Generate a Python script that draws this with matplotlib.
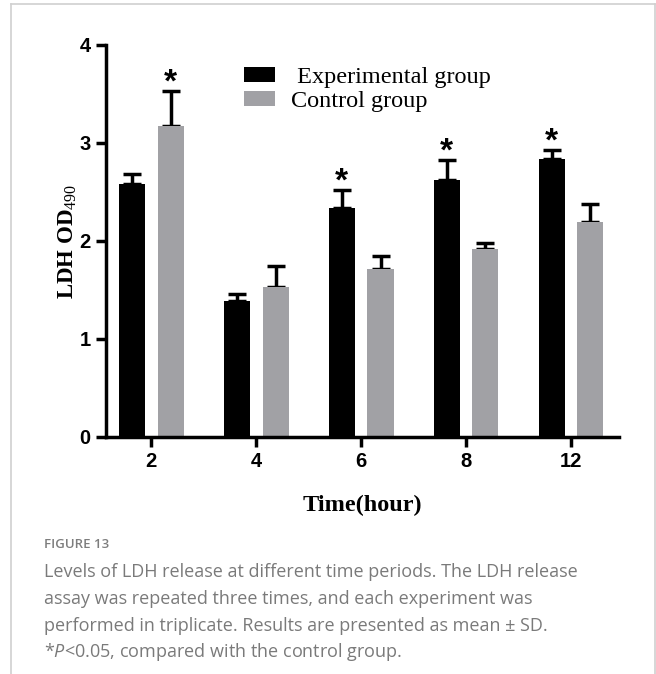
import matplotlib
matplotlib.use("Agg")
import matplotlib.pyplot as plt
import numpy as np
from matplotlib.lines import Line2D

# LDH OD490 per time point, mean and upper SD
times = ["2", "4", "6", "8", "12"]
exp_mean = [2.58, 1.39, 2.34, 2.62, 2.84]
exp_sd = [0.10, 0.07, 0.18, 0.21, 0.09]
ctrl_mean = [3.17, 1.53, 1.71, 1.92, 2.19]
ctrl_sd = [0.36, 0.22, 0.14, 0.06, 0.19]
exp_sig = [False, False, True, True, True]
ctrl_sig = [True, False, False, False, False]

caption_lines = [
    "Levels of LDH release at different time periods. The LDH release",
    "assay was repeated three times, and each experiment was",
    "performed in triplicate. Results are presented as mean \u00b1 SD.",
    r"*$\mathit{P}$<0.05, compared with the control group.",
]

plt.rcParams["mathtext.fontset"] = "custom"
plt.rcParams["mathtext.rm"] = "Liberation Serif"
plt.rcParams["mathtext.it"] = "Open Sans:italic"

W, H = 656, 674
fig = plt.figure(figsize=(W / 100, H / 100), dpi=100)
ax = fig.add_axes([106 / W, 1 - 437 / H, (619 - 106) / W, (437 - 45) / H])

x = np.arange(len(times))
off, bw = 0.185, 0.248
black, grey = "#000000", "#a1a1a5"

b1 = ax.bar(x - off, exp_mean, bw, color=black, label=" Experimental group", zorder=2)
b2 = ax.bar(x + off, ctrl_mean, bw, color=grey, label="Control group", zorder=2)
for xs, m, s in ((x - off, exp_mean, exp_sd), (x + off, ctrl_mean, ctrl_sd)):
    ax.errorbar(xs, m, yerr=[np.zeros(len(s)), s], fmt="none", ecolor="black",
                elinewidth=2.5, capsize=6.5, capthick=2.5, zorder=1)

star = dict(ha="center", va="baseline", fontsize=24, fontweight="bold",
            family="Liberation Sans", textcoords="offset points", xytext=(0, -0.5))
for xi, m, s, sig in zip(x - off, exp_mean, exp_sd, exp_sig):
    if sig:
        ax.annotate("*", (xi, m + s), **star)
for xi, m, s, sig in zip(x + off, ctrl_mean, ctrl_sd, ctrl_sig):
    if sig:
        ax.annotate("*", (xi, m + s), **star)

ax.set_xlim(-0.43, 4.457)
ax.set_ylim(0, 4)
ax.set_xticks(x)
ax.set_xticklabels(times)
ax.set_yticks([0, 1, 2, 3, 4])
for sp in ("top", "right"):
    ax.spines[sp].set_visible(False)
for sp in ("left", "bottom"):
    ax.spines[sp].set_linewidth(2.5)
ax.tick_params(width=2.5, length=7, pad=4, labelsize=14.5)
for lab in ax.get_xticklabels() + ax.get_yticklabels():
    lab.set_family("Liberation Sans")
    lab.set_fontweight("bold")

ax.set_xlabel("Time(hour)", family="Liberation Serif", fontweight="bold",
              fontsize=17.5)
ax.xaxis.set_label_coords(0.5, -(495 - 437) / (437 - 45))
ax.set_ylabel(r"LDH OD$_{\mathrm{490}}$", family="Liberation Serif",
              fontweight="bold", fontsize=16.5)
ax.yaxis.set_label_coords(-(106 - 68) / (619 - 106), 0.5)
ax.yaxis.label.set_va("center")

ax.legend(handles=[b1, b2], frameon=False, loc="upper left",
          bbox_to_anchor=(244 / W, 1 - 67 / H), bbox_transform=fig.transFigure,
          prop={"family": "Liberation Serif", "size": 17.5},
          handlelength=1.27, handleheight=0.58, handletextpad=0.65,
          labelspacing=0.12, borderpad=0, borderaxespad=0)

# caption
fig.text(44 / W, 1 - 545 / H, "FIGURE 13", color="#7d7d7d", fontsize=9.5,
         family="Open Sans", fontweight="semibold", va="center")
for i, line in enumerate(caption_lines):
    fig.text(44 / W, 1 - (572 + 26.8 * i) / H, line, color="#7a7a7a",
             fontsize=13.0, family="Open Sans", va="center")

# page frame
fc = "#d0d0d0"
fig.add_artist(Line2D([11 / W, 11 / W], [0, 1 - 4 / H], color=fc, lw=1.2))
fig.add_artist(Line2D([11 / W, 655 / W], [1 - 4 / H, 1 - 4 / H], color=fc, lw=1.2))
fig.add_artist(Line2D([655 / W, 655 / W], [0, 1 - 4 / H], color=fc, lw=1.2))

fig.savefig("out.png", dpi=100)
